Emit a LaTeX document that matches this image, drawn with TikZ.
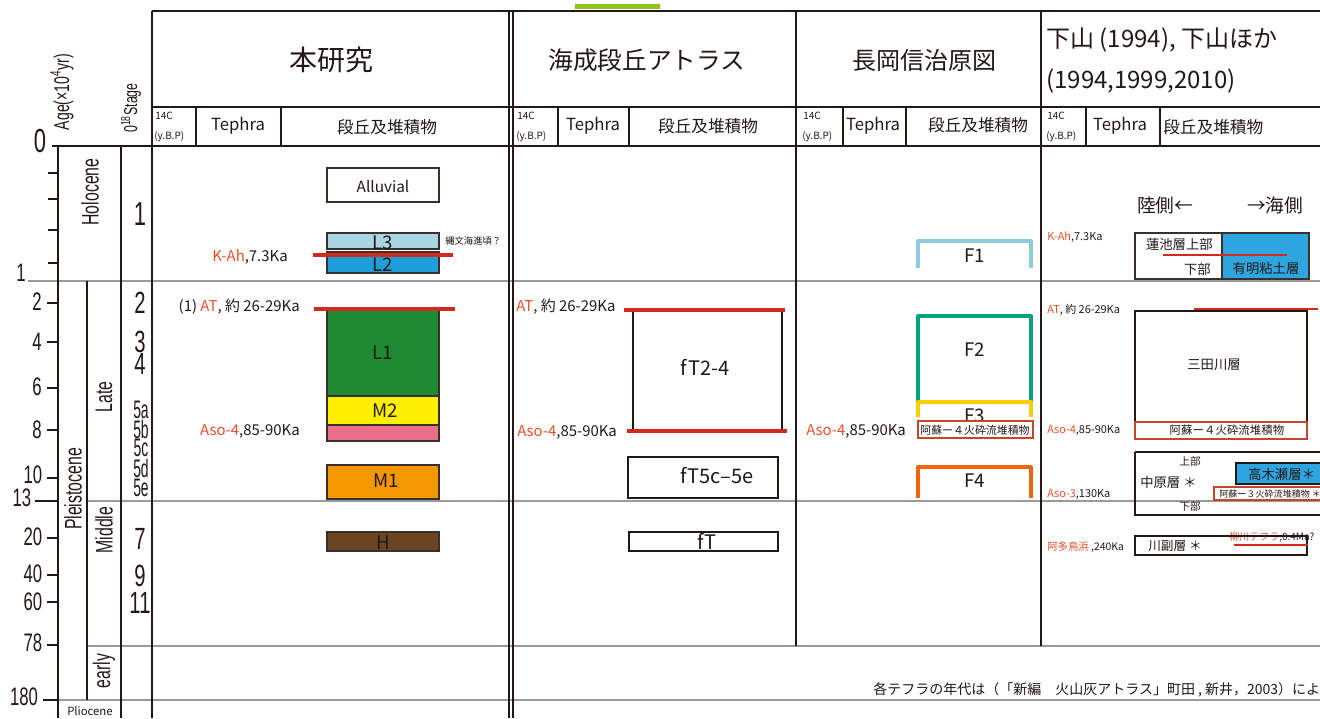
\documentclass[tikz,border=0pt]{standalone}
\usepackage{fontspec}
\setmainfont{Noto Sans CJK JP}
\newfontfamily\nar[FakeStretch=0.66]{Liberation Sans}
\newfontfamily\narr[FakeStretch=0.55]{Liberation Sans}
\newcommand\fsz[1]{\fontsize{#1}{#1}\selectfont}
\definecolor{ink}{HTML}{231815}
\definecolor{tor}{HTML}{E8502A}
\definecolor{redline}{HTML}{D22A1E}
\definecolor{boxred}{HTML}{C8442E}
\definecolor{gridgray}{HTML}{9A9A9A}
\definecolor{cLthree}{HTML}{A9D6E2}
\definecolor{cLtwo}{HTML}{1F9FDA}
\definecolor{cLone}{HTML}{1E8A32}
\definecolor{cMtwo}{HTML}{FFEF00}
\definecolor{cPink}{HTML}{EB6F88}
\definecolor{cMone}{HTML}{F39800}
\definecolor{cH}{HTML}{6B4421}
\definecolor{cFone}{HTML}{8DCBE0}
\definecolor{cFtwo}{HTML}{00A37A}
\definecolor{cFthree}{HTML}{FACD00}
\definecolor{cFfour}{HTML}{F0650B}
\definecolor{cBlue}{HTML}{2EA5DF}
\definecolor{cGreen}{HTML}{8DC21F}
\tikzset{
  blk/.style={draw=ink, line width=1.1pt},
  gry/.style={draw=gridgray, line width=1.1pt},
  tck/.style={draw=ink, line width=1pt},
  lbox/.style={draw=ink!90, line width=1.1pt},
  redl/.style={draw=redline, line width=2.4pt},
  rbox/.style={draw=boxred, line width=1.1pt, fill=white},
  brk/.style={line width=3pt, line join=round},
  agen/.style={font=\nar\fsz{19}},
  stg/.style={font=\nar\fsz{23}},
  stgs/.style={font=\narr\fsz{19}},
  epo/.style={font=\nar\fsz{18}, rotate=90},
  sub/.style={font=\fsz{12.5}},
  tiny/.style={font=\fsz{7.5}, anchor=west},
  teph/.style={font=\fsz{11.2}},
  tephs/.style={font=\fsz{8.2}, anchor=west},
  lyr/.style={font=\fsz{14}},
}
\begin{document}
\begin{tikzpicture}[x=0.75pt,y=-0.75pt, every node/.style={inner sep=0pt, text=ink}]
\useasboundingbox (0,0) rectangle (1320,718);
\fill[white] (0,0) rectangle (1320,718);
% green mark of clipped title
\fill[cGreen] (575,4) rectangle (660,9);

% ---- grid ----
\draw[gry] (28,281) -- (1320,281);
\draw[gry] (87,501) -- (1320,501);
\draw[gry] (87,646) -- (1320,646);
\draw[gry] (58,700) -- (1320,700);
\draw[blk] (152,11) -- (1320,11);
\draw[blk] (152,107) -- (1320,107);
\draw[blk] (52,146) -- (1320,146);
\draw[blk] (58,146) -- (58,718);
\draw[blk] (121,146) -- (121,718);
\draw[blk] (87,281) -- (87,700);
\draw[blk] (152,11) -- (152,718);
\draw[blk] (509,11) -- (509,718);
\draw[blk] (513,11) -- (513,718);
\draw[blk] (796,11) -- (796,646);
\draw[blk] (1041,11) -- (1041,646);
\foreach \xx in {196,281,558,629,843,906,1086,1160}
  \draw[blk] (\xx,107) -- (\xx,146);

% ---- ticks ----
\foreach \yy in {173,199,230,263}
  \draw[tck] (48,\yy) -- (58,\yy);
\foreach \yy in {303,342,388,430,478,538,575,602,645}
  \draw[tck] (47,\yy) -- (58,\yy);
\draw[tck] (43,700) -- (58,700);
\draw[tck] (35,501) -- (58,501);

% ---- axis labels ----
\node[font=\nar\fsz{16}, rotate=90] (agelab) at (62,92) {Age(×10\textsuperscript{4}yr)};
\node[font=\nar\fsz{14}, rotate=90] (stlab) at (131,108) {0\textsuperscript{18}Stage};
\node[font=\nar\fsz{25}] (a0) at (40,141) {0};
\node[agen] (a1) at (21,273) {1};
\node[agen] (a2) at (37,302) {2};
\node[agen] (a4) at (37,342) {4};
\node[agen] (a6) at (37,387) {6};
\node[agen] (a8) at (37,430) {8};
\node[agen] (a10) at (33,475) {10};
\node[agen] (a13) at (22,498) {13};
\node[agen] (a20) at (33,537) {20};
\node[agen] (a40) at (33,574) {40};
\node[agen] (a60) at (33,602) {60};
\node[agen] (a78) at (33,643) {78};
\node[agen] (a180) at (24,697) {180};

% ---- epochs ----
\node[epo] (holo) at (90,192) {Holocene};
\node[epo] (pleis) at (73,489) {Pleistocene};
\node[epo] (late) at (104,397) {Late};
\node[epo] (mid) at (104,530) {Middle};
\node[epo] (early) at (104,671) {early};
\node[font=\fsz{8.5}] (plio) at (90,711) {Pliocene};

% ---- stages ----
\node[font=\nar\fsz{25}] (s1) at (140,214) {1};
\node[stg] (s2) at (140,303) {2};
\node[stg] (s3) at (140,342) {3};
\node[stg] (s4) at (140,364) {4};
\node[stgs] (s5a) at (141,410) {5a};
\node[stgs] (s5b) at (141,429) {5b};
\node[stgs] (s5c) at (141,448) {5c};
\node[stgs] (s5d) at (141,468) {5d};
\node[stgs] (s5e) at (141,488) {5e};
\node[stg] (s7) at (140,539) {7};
\node[stg] (s9) at (140,576) {9};
\node[stg] (s11) at (140,603) {11};

% ---- headers ----
\node[font=\fsz{21}] (h1) at (331,60) {本研究};
\node[font=\fsz{18.5}] (h2) at (647,60) {海成段丘アトラス};
\node[font=\fsz{18}] (h3) at (924,60) {長岡信治原図};
\node[font=\fsz{18}, anchor=west] (h4a) at (1046,40) {下山 (1994), 下山ほか};
\node[font=\fsz{18}, anchor=west] (h4b) at (1046,81) {(1994,1999,2010)};

% ---- sub headers ----
\node[tiny] (c1a) at (155,116) {14C};
\node[tiny] (c1b) at (154,137) {(y.B.P)};
\node[sub] (t1) at (238,126) {Tephra};
\node[sub] (d1) at (387,127) {段丘及堆積物};
\node[tiny] (c2a) at (517,116) {14C};
\node[tiny] (c2b) at (516,137) {(y.B.P)};
\node[sub] (t2) at (593,126) {Tephra};
\node[sub] (d2) at (708,126) {段丘及堆積物};
\node[tiny] (c3a) at (803,116) {14C};
\node[tiny] (c3b) at (802,137) {(y.B.P)};
\node[sub] (t3) at (873,126) {Tephra};
\node[sub] (d3) at (978,125) {段丘及堆積物};
\node[tiny] (c4a) at (1047,116) {14C};
\node[tiny] (c4b) at (1046,137) {(y.B.P)};
\node[sub] (t4) at (1120,126) {Tephra};
\node[sub, anchor=west] (d4) at (1163,127) {段丘及堆積物};

% ---- 本研究 ----
\draw[lbox] (327,168) rectangle (439,202);
\node[font=\fsz{11.5}] (allu) at (383,186) {Alluvial};
\draw[lbox, fill=cLthree] (327,233) rectangle (439,249);
\node[lyr] (L3) at (383,243) {L3};
\draw[lbox, fill=cLtwo] (327,252) rectangle (439,273);
\node[lyr] (L2) at (383,265) {L2};
\draw[redl] (313,255) -- (453,255);
\node[teph, anchor=east] (kah1) at (288,257) {\textcolor{tor}{K-Ah},7.3Ka};
\node[font=\fsz{7}, anchor=west] (jomon) at (445,241) {縄文海進頃？};
\draw[lbox, fill=cLone] (327,309) rectangle (439,396);
\node[lyr] (L1) at (383,353) {L1};
\draw[lbox, fill=cMtwo] (327,396) rectangle (439,425);
\node[lyr] (M2) at (385,411) {M2};
\draw[lbox, fill=cPink] (327,425) rectangle (439,441);
\draw[redl] (314,309) -- (455,309);
\node[teph, anchor=east] (at1) at (300,307) {(1) \textcolor{tor}{AT}, 約 26-29Ka};
\node[teph, anchor=east] (aso1) at (300,431) {\textcolor{tor}{Aso-4},85-90Ka};
\draw[lbox, fill=cMone] (327,465) rectangle (439,499);
\node[lyr] (M1) at (386,481) {M1};
\draw[lbox, fill=cH] (327,532) rectangle (439,551);
\node[lyr] (H) at (383,543) {H};

% ---- 海成段丘アトラス ----
\draw[draw=ink, line width=0.9pt] (633,310) rectangle (782,430);
\node[font=\fsz{15}] (ft24) at (705,367) {fT2-4};
\draw[redl] (624,310) -- (785,310);
\draw[redl] (627,431) -- (787,431);
\node[teph, anchor=west] (at2) at (516,307) {\textcolor{tor}{AT}, 約 26-29Ka};
\node[teph, anchor=west] (aso2) at (517,432) {\textcolor{tor}{Aso-4},85-90Ka};
\draw[draw=ink, line width=0.9pt] (628,457) rectangle (778,498);
\node[font=\fsz{15}] (ft5) at (717,476) {fT5c–5e};
\draw[draw=ink, line width=0.9pt] (629,532) rectangle (778,551);
\node[font=\fsz{15}] (ft) at (707,541) {fT};

% ---- 長岡信治原図 ----
\draw[brk, draw=cFone] (918,268) -- (918,241) -- (1031,241) -- (1031,268);
\node[lyr] (F1) at (975,256) {F1};
\draw[brk, draw=cFtwo] (918,403) -- (918,316) -- (1031,316) -- (1031,403);
\node[lyr] (F2) at (975,350) {F2};
\draw[brk, draw=cFthree] (918,417) -- (918,402) -- (1031,402) -- (1031,417);
\node[lyr] (F3) at (975,416) {F3};
\draw[rbox] (918,421) rectangle (1033,438);
\node[font=\fsz{8.2}] (aso4n) at (975,430) {阿蘇ー４火砕流堆積物};
\node[teph, anchor=west] (aso3) at (806,431) {\textcolor{tor}{Aso-4},85-90Ka};
\draw[brk, draw=cFfour] (918,498) -- (918,467) -- (1031,467) -- (1031,498);
\node[lyr] (F4) at (975,481) {F4};

% ---- 下山 ----
\node[font=\fsz{14}, anchor=west] (riku) at (1137,205) {陸側←};
\node[font=\fsz{14}, anchor=west] (umi) at (1247,205) {→海側};
\node[tephs] (kah4) at (1047,237) {\textcolor{tor}{K-Ah},7.3Ka};
\draw[lbox, line width=0.9pt] (1135,233) rectangle (1222,279);
\draw[lbox, line width=0.9pt, fill=cBlue] (1222,233) rectangle (1309,279);
\node[font=\fsz{10}, anchor=east] (hasu) at (1213,244) {蓮池層上部};
\node[font=\fsz{10}, anchor=east] (kabu) at (1211,269) {下部};
\node[font=\fsz{10}] (ariake) at (1266,268) {有明粘土層};
\draw[draw=redline, line width=1.8pt] (1163,255) -- (1287,255);

\node[tephs] (at4) at (1047,310) {\textcolor{tor}{AT}, 約 26-29Ka};
\draw[draw=ink, line width=0.9pt] (1135,311) rectangle (1307,422);
\node[font=\fsz{10}] (mita) at (1214,365) {三田川層};
\draw[draw=redline, line width=2pt] (1194,309) -- (1318,309);
\draw[rbox] (1135,422) rectangle (1307,439);
\node[font=\fsz{8.6}] (aso4s) at (1227,430) {阿蘇ー４火砕流堆積物};
\node[tephs] (aso4t) at (1047,431) {\textcolor{tor}{Aso-4},85-90Ka};

\draw[draw=ink, line width=0.9pt] (1135,452) -- (1325,452);
\draw[draw=ink, line width=0.9pt] (1135,452) -- (1135,515) -- (1325,515);
\node[font=\fsz{8}] (jobu) at (1190,461) {上部};
\node[font=\fsz{10}, anchor=west] (naka) at (1140,482) {中原層 ＊};
\node[font=\fsz{8}] (kabu2) at (1190,506) {下部};
\draw[draw=ink, line width=0.9pt, fill=cBlue] (1236,463) rectangle (1325,484);
\node[font=\fsz{10}, anchor=west] (taka) at (1248,474) {高木瀬層＊};
\draw[rbox] (1214,487) rectangle (1325,500);
\node[font=\fsz{6.8}, anchor=west] (aso3s) at (1219,494) {阿蘇ー３火砕流堆積物 ＊};
\node[tephs] (aso3t) at (1047,495) {\textcolor{tor}{Aso-3},130Ka};

\node[font=\fsz{7.5}, anchor=west] (yana) at (1229,537) {\textcolor{tor}{柳川テフラ},0.4Ma?};
\draw[draw=ink, line width=0.9pt] (1135,536) rectangle (1307,555);
\node[font=\fsz{9.5}, anchor=west] (kawa) at (1148,546) {川副層 ＊};
\draw[draw=redline, line width=1.8pt] (1234,545) -- (1308,545);
\node[tephs, font=\fsz{7.8}] (ata) at (1047,547) {\textcolor{tor}{阿多鳥浜} ,240Ka};

% ---- footer ----
\node[font=\fsz{10.5}, anchor=west] (foot) at (873,690) {各テフラの年代は（「新編　火山灰アトラス」町田 , 新井，2003）による};
\end{tikzpicture}
\end{document}
